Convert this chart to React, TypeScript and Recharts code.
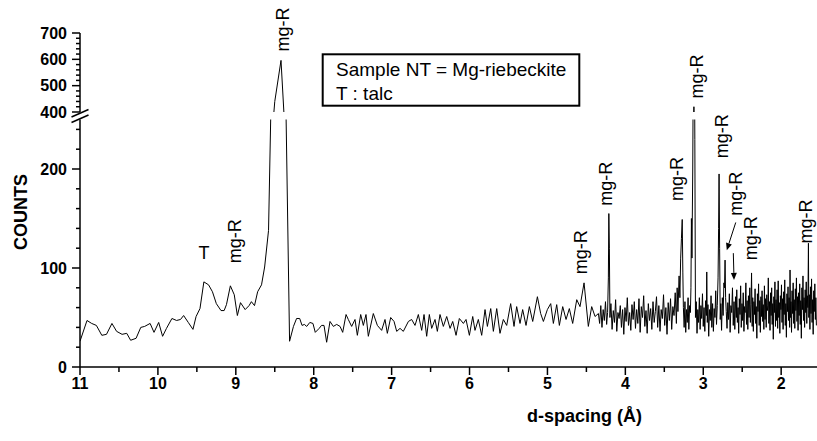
import React from 'react';
import { LineChart, Line, XAxis, YAxis, ReferenceDot, ReferenceLine } from 'recharts';

const FONT = '"Liberation Sans", Arial, Helvetica, sans-serif';

// d-spacing (Å), counts — low-angle part (11 → 7.9 Å)
const regionLow: [number, number][] = [
  [11.0, 26], [10.91, 47], [10.85, 44], [10.79, 42], [10.72, 32], [10.66, 33], [10.59, 44], [10.53, 36],
  [10.46, 33], [10.4, 34], [10.35, 27], [10.28, 29], [10.22, 40], [10.17, 41], [10.1, 44], [10.05, 35],
  [9.99, 45], [9.94, 31], [9.89, 39], [9.82, 49], [9.76, 47], [9.71, 48], [9.67, 52], [9.61, 45],
  [9.55, 38], [9.51, 51], [9.46, 59], [9.41, 86], [9.35, 83], [9.3, 76], [9.25, 64], [9.19, 57],
  [9.15, 57], [9.12, 63], [9.07, 82], [9.02, 73], [8.98, 52], [8.94, 65], [8.88, 58], [8.83, 62],
  [8.8, 66], [8.76, 62], [8.72, 76], [8.67, 83], [8.63, 101], [8.58, 138], [8.55, 260], [8.5, 440],
  [8.42, 596], [8.37, 330], [8.31, 26], [8.26, 41], [8.22, 49], [8.18, 49], [8.15, 42], [8.12, 43],
  [8.09, 41], [8.05, 45], [8.01, 44], [7.98, 35], [7.93, 39], [7.9, 42],
];

// middle part (7.9 → 4.35 Å)
const regionMid: [number, number][] = [
  [7.868, 42], [7.834, 25], [7.791, 46], [7.748, 41], [7.705, 43], [7.662, 41], [7.628, 35], [7.585, 53],
  [7.556, 48], [7.513, 41], [7.47, 48], [7.44, 32], [7.397, 53], [7.363, 42], [7.329, 53], [7.299, 31],
  [7.235, 54], [7.183, 42], [7.128, 37], [7.085, 48], [7.055, 34], [7.012, 50], [6.969, 46], [6.935, 36],
  [6.892, 39], [6.85, 36], [6.785, 46], [6.743, 48], [6.7, 42], [6.657, 53], [6.614, 37], [6.584, 53],
  [6.55, 31], [6.516, 53], [6.486, 39], [6.443, 48], [6.413, 36], [6.379, 53], [6.336, 41], [6.293, 51],
  [6.25, 39], [6.216, 46], [6.173, 32], [6.131, 49], [6.079, 44], [6.045, 48], [6.002, 32], [5.959, 51],
  [5.93, 37], [5.887, 48], [5.844, 32], [5.801, 58], [5.771, 41], [5.728, 59], [5.694, 36], [5.651, 59],
  [5.609, 34], [5.566, 48], [5.523, 42], [5.472, 64], [5.429, 41], [5.395, 61], [5.352, 44], [5.318, 58],
  [5.275, 42], [5.232, 61], [5.189, 46], [5.129, 71], [5.087, 54], [5.052, 46], [5.001, 58], [4.958, 64],
  [4.924, 44], [4.881, 63], [4.847, 42], [4.804, 61], [4.761, 48], [4.719, 59], [4.676, 44], [4.624, 68],
  [4.582, 61], [4.53, 85], [4.475, 41], [4.432, 61], [4.389, 51], [4.346, 54],
];

// high-angle part (4.35 → 1.55 Å)
const regionHigh: [number, number][] = [
  [4.33, 44], [4.315, 62], [4.3, 40], [4.285, 58], [4.27, 47], [4.255, 66], [4.24, 43], [4.228, 55],
  [4.218, 90], [4.212, 155], [4.205, 120], [4.198, 50], [4.185, 64], [4.17, 38], [4.155, 57], [4.14, 45],
  [4.125, 68], [4.11, 36], [4.095, 55], [4.08, 49], [4.065, 62], [4.05, 40], [4.035, 58], [4.02, 33],
  [4.005, 60], [3.99, 46], [3.975, 70], [3.96, 42], [3.945, 55], [3.93, 37], [3.915, 63], [3.9, 48],
  [3.885, 66], [3.87, 39], [3.855, 58], [3.84, 44], [3.825, 69], [3.81, 35], [3.795, 61], [3.78, 50],
  [3.765, 72], [3.75, 41], [3.735, 57], [3.72, 34], [3.705, 64], [3.69, 47], [3.675, 59], [3.66, 38],
  [3.645, 66], [3.63, 45], [3.615, 56], [3.6, 71], [3.585, 40], [3.57, 62], [3.555, 36], [3.54, 58],
  [3.525, 49], [3.51, 73], [3.495, 42], [3.48, 60], [3.465, 33], [3.45, 65], [3.435, 47], [3.42, 69],
  [3.405, 38], [3.39, 61], [3.375, 52], [3.36, 75], [3.345, 44], [3.335, 80], [3.325, 56], [3.31, 92],
  [3.3, 70], [3.29, 110], [3.28, 130], [3.27, 149], [3.262, 95], [3.255, 60], [3.245, 40], [3.235, 66],
  [3.225, 35], [3.215, 58], [3.205, 45], [3.195, 70], [3.185, 38], [3.175, 62], [3.165, 55], [3.158, 80],
  [3.152, 150], [3.145, 110], [3.135, 200], [3.12, 420], [3.108, 230], [3.1, 50], [3.09, 66], [3.08, 34],
  [3.07, 58], [3.06, 45], [3.05, 70], [3.04, 38], [3.03, 62], [3.02, 49], [3.01, 74], [3.0, 41],
  [2.99, 60], [2.98, 36], [2.97, 67], [2.96, 52], [2.955, 96], [2.948, 45], [2.94, 63], [2.93, 31],
  [2.92, 58], [2.91, 47], [2.9, 72], [2.89, 40], [2.88, 64], [2.87, 36], [2.86, 59], [2.85, 50],
  [2.84, 77], [2.83, 43], [2.82, 62], [2.81, 90], [2.803, 140], [2.797, 195], [2.79, 120], [2.782, 48],
  [2.775, 64], [2.765, 37], [2.755, 70], [2.745, 52], [2.735, 85], [2.727, 80], [2.72, 108], [2.713, 70],
  [2.705, 56], [2.695, 39], [2.685, 65], [2.675, 48], [2.665, 74], [2.655, 35], [2.645, 62], [2.635, 55],
  [2.625, 80], [2.615, 42], [2.605, 66], [2.595, 38], [2.585, 71], [2.575, 50], [2.57, 78], [2.562, 45],
  [2.553, 60], [2.545, 34], [2.537, 69], [2.528, 53], [2.52, 82], [2.512, 40], [2.503, 64], [2.495, 47],
  [2.487, 75], [2.478, 36], [2.47, 61], [2.462, 55], [2.453, 85], [2.445, 43], [2.437, 67], [2.428, 38],
  [2.42, 72], [2.412, 50], [2.403, 80], [2.395, 45], [2.387, 63], [2.38, 95], [2.372, 41], [2.365, 70],
  [2.357, 36], [2.35, 66], [2.342, 53], [2.335, 79], [2.327, 44], [2.32, 61], [2.312, 29], [2.305, 74],
  [2.297, 56], [2.29, 84], [2.282, 42], [2.275, 67], [2.267, 35], [2.26, 71], [2.252, 51], [2.245, 77],
  [2.237, 46], [2.23, 63], [2.222, 38], [2.215, 82], [2.207, 48], [2.2, 69], [2.192, 40], [2.185, 73],
  [2.177, 57], [2.17, 62], [2.165, 90], [2.158, 44], [2.15, 66], [2.143, 37], [2.136, 75], [2.129, 52],
  [2.122, 80], [2.115, 43], [2.108, 64], [2.101, 28], [2.094, 71], [2.087, 55], [2.08, 86], [2.073, 41],
  [2.066, 68], [2.059, 47], [2.052, 78], [2.045, 39], [2.038, 87], [2.031, 50], [2.024, 65], [2.017, 34],
  [2.01, 72], [2.003, 58], [1.996, 83], [1.989, 45], [1.982, 69], [1.975, 38], [1.968, 76], [1.961, 53],
  [1.954, 88], [1.947, 42], [1.94, 64], [1.933, 30], [1.926, 74], [1.919, 56], [1.912, 81], [1.905, 47],
  [1.898, 70], [1.891, 40], [1.886, 98], [1.88, 50], [1.874, 66], [1.867, 35], [1.86, 77], [1.853, 54],
  [1.846, 85], [1.839, 44], [1.832, 68], [1.825, 39], [1.818, 79], [1.811, 57], [1.804, 90], [1.797, 46],
  [1.79, 71], [1.783, 37], [1.776, 75], [1.769, 52], [1.762, 84], [1.755, 43], [1.748, 67], [1.741, 29],
  [1.734, 80], [1.727, 58], [1.72, 92], [1.713, 47], [1.706, 70], [1.699, 40], [1.692, 78], [1.685, 55],
  [1.678, 86], [1.671, 44], [1.664, 72], [1.657, 60], [1.65, 125], [1.645, 50], [1.638, 73], [1.631, 38],
  [1.624, 81], [1.617, 54], [1.61, 89], [1.603, 45], [1.596, 68], [1.589, 33], [1.582, 77], [1.575, 56],
  [1.568, 84], [1.561, 48], [1.555, 70], [1.548, 42],
];

const pattern = [...regionLow, ...regionMid, ...regionHigh].map(([d, c]) => ({ d, c }));

const xDomain: [number, number] = [1.54, 11];
const xTicks = [11, 10.5, 10, 9.5, 9, 8.5, 8, 7.5, 7, 6.5, 6, 5.5, 5, 4.5, 4, 3.5, 3, 2.5, 2];
const xLabels = [11, 10, 9, 8, 7, 6, 5, 4, 3, 2];
const lowerDomain: [number, number] = [0, 250];
const lowerTicks = [0, 20, 40, 60, 80, 100, 120, 140, 160, 180, 200, 220, 240];
const lowerLabels = [0, 100, 200];
const upperDomain: [number, number] = [400, 700];
const upperTicks = [400, 420, 440, 460, 480, 500, 520, 540, 560, 580, 600, 620, 640, 660, 680, 700];
const upperLabels = [400, 500, 600, 700];

// peak annotations (anchor in data coordinates)
const lowerNotes = [
  { text: 'T', d: 9.408, c: 115, rotate: false },
  { text: 'mg-R', d: 9.01, c: 127, rotate: true },
  { text: 'mg-R', d: 4.569, c: 116, rotate: true },
  { text: 'mg-R', d: 4.248, c: 185, rotate: true },
  { text: 'mg-R', d: 3.343, c: 190, rotate: true },
  { text: 'mg-R', d: 2.765, c: 233, rotate: true },
  { text: 'mg-R', d: 2.579, c: 175, rotate: true },
  { text: 'mg-R', d: 2.386, c: 130, rotate: true },
  { text: 'mg-R', d: 1.68, c: 147, rotate: true },
];
const upperNotes = [
  { text: 'mg-R', d: 8.4, c: 713, rotate: true },
  { text: 'mg-R', d: 3.08, c: 535, rotate: true },
];
const arrows = [
  { from: [2.583, 146], to: [2.698, 118] },
  { from: [2.614, 115], to: [2.605, 88] },
];

const legendLines = ['Sample NT = Mg-riebeckite', 'T : talc'];

const XTick = (props: any) => {
  const { x, y, payload } = props;
  const major = xLabels.includes(payload.value);
  return (
    <g>
      <line x1={x} x2={x} y1={y} y2={y + (major ? 8 : 5)} stroke="#000" strokeWidth={1.5} />
      {major && (
        <text x={x} y={y + 22} textAnchor="middle" fontFamily={FONT} fontWeight="bold" fontSize={16} fill="#000">
          {payload.value}
        </text>
      )}
    </g>
  );
};

const makeYTick = (labels: number[]) => (props: any) => {
  const { x, y, payload } = props;
  const major = labels.includes(payload.value);
  return (
    <g>
      <line x1={x - (major ? 8 : 4)} x2={x} y1={y} y2={y} stroke="#000" strokeWidth={1.5} />
      {major && (
        <text x={x - 13} y={y} dy="0.36em" textAnchor="end" fontFamily={FONT} fontWeight="bold" fontSize={16} fill="#000">
          {payload.value}
        </text>
      )}
    </g>
  );
};

const noteShape = (text: string, rotate: boolean) => (p: any) => {
  const { cx, cy } = p;
  return (
    <text
      x={cx}
      y={cy}
      transform={rotate ? `rotate(-90 ${cx} ${cy})` : undefined}
      textAnchor="middle"
      dominantBaseline="central"
      fontFamily={FONT}
      fontSize={18}
      fill="#000"
    >
      {text}
    </text>
  );
};

const arrowShape = (p: any) => {
  const { x1, y1, x2, y2 } = p;
  const ang = Math.atan2(y2 - y1, x2 - x1);
  const L = 7;
  const W = 3;
  const bx = x2 - L * Math.cos(ang);
  const by = y2 - L * Math.sin(ang);
  const px = -Math.sin(ang) * W;
  const py = Math.cos(ang) * W;
  return (
    <g>
      <line x1={x1} y1={y1} x2={bx} y2={by} stroke="#000" strokeWidth={1} />
      <polygon points={`${x2},${y2} ${bx + px},${by + py} ${bx - px},${by - py}`} fill="#000" />
    </g>
  );
};

const axisStyle = { stroke: '#000', strokeWidth: 1.5 };

export default function App() {
  return (
    <div style={{ position: 'absolute', left: 0, top: 0, width: 817, height: 441, background: '#fff', overflow: 'hidden' }}>
      <div style={{ position: 'absolute', left: 0, top: 0 }}>
        <LineChart width={817} height={441} data={pattern} margin={{ top: 119.5, right: 0, bottom: 0, left: 0 }}>
          <XAxis
            type="number"
            dataKey="d"
            domain={xDomain}
            reversed
            allowDataOverflow
            ticks={xTicks}
            interval={0}
            tick={XTick}
            tickLine={false}
            tickSize={0}
            tickMargin={0}
            axisLine={axisStyle}
            height={74}
          />
          <YAxis
            type="number"
            domain={lowerDomain}
            allowDataOverflow
            ticks={lowerTicks}
            interval={0}
            tick={makeYTick(lowerLabels)}
            tickLine={false}
            tickSize={0}
            tickMargin={0}
            axisLine={axisStyle}
            width={80}
          />
          <Line type="linear" dataKey="c" stroke="#000" strokeWidth={1} dot={false} isAnimationActive={false} />
          {lowerNotes.map((n, i) => (
            <ReferenceDot key={`n${i}`} x={n.d} y={n.c} r={0} ifOverflow="visible" shape={noteShape(n.text, n.rotate)} />
          ))}
          {arrows.map((a, i) => (
            <ReferenceLine
              key={`a${i}`}
              segment={[{ x: a.from[0], y: a.from[1] }, { x: a.to[0], y: a.to[1] }]}
              ifOverflow="visible"
              shape={arrowShape}
            />
          ))}
        </LineChart>
      </div>
      <div style={{ position: 'absolute', left: 0, top: 0 }}>
        <LineChart width={817} height={120} data={pattern} margin={{ top: 33, right: 0, bottom: 8, left: 0 }}>
          <XAxis type="number" dataKey="d" domain={xDomain} reversed allowDataOverflow hide />
          <YAxis
            type="number"
            domain={upperDomain}
            allowDataOverflow
            ticks={upperTicks}
            interval={0}
            tick={makeYTick(upperLabels)}
            tickLine={false}
            tickSize={0}
            tickMargin={0}
            axisLine={axisStyle}
            width={80}
          />
          <Line type="linear" dataKey="c" stroke="#000" strokeWidth={1} dot={false} isAnimationActive={false} />
          {upperNotes.map((n, i) => (
            <ReferenceDot key={`u${i}`} x={n.d} y={n.c} r={0} ifOverflow="visible" shape={noteShape(n.text, n.rotate)} />
          ))}
        </LineChart>
      </div>
      <svg width={817} height={441} style={{ position: 'absolute', left: 0, top: 0, pointerEvents: 'none' }}>
        <line x1={71.5} y1={117} x2={88.5} y2={109.5} stroke="#000" strokeWidth={1.5} />
        <line x1={71.5} y1={122.5} x2={88.5} y2={115} stroke="#000" strokeWidth={1.5} />
        <rect x={322.7} y={54.3} width={256.6} height={51.4} fill="#fff" stroke="#000" strokeWidth={2} />
        <text x={336} y={76} fontFamily={FONT} fontSize={19} fill="#000">{legendLines[0]}</text>
        <text x={336} y={99.5} fontFamily={FONT} fontSize={19} fill="#000">{legendLines[1]}</text>
        <text transform="translate(27,212) rotate(-90)" textAnchor="middle" fontFamily={FONT} fontWeight="bold" fontSize={18} fill="#000">
          COUNTS
        </text>
        <text x={584.5} y={421.7} textAnchor="middle" fontFamily={FONT} fontWeight="bold" fontSize={18} fill="#000">
          d-spacing (Å)
        </text>
      </svg>
    </div>
  );
}
